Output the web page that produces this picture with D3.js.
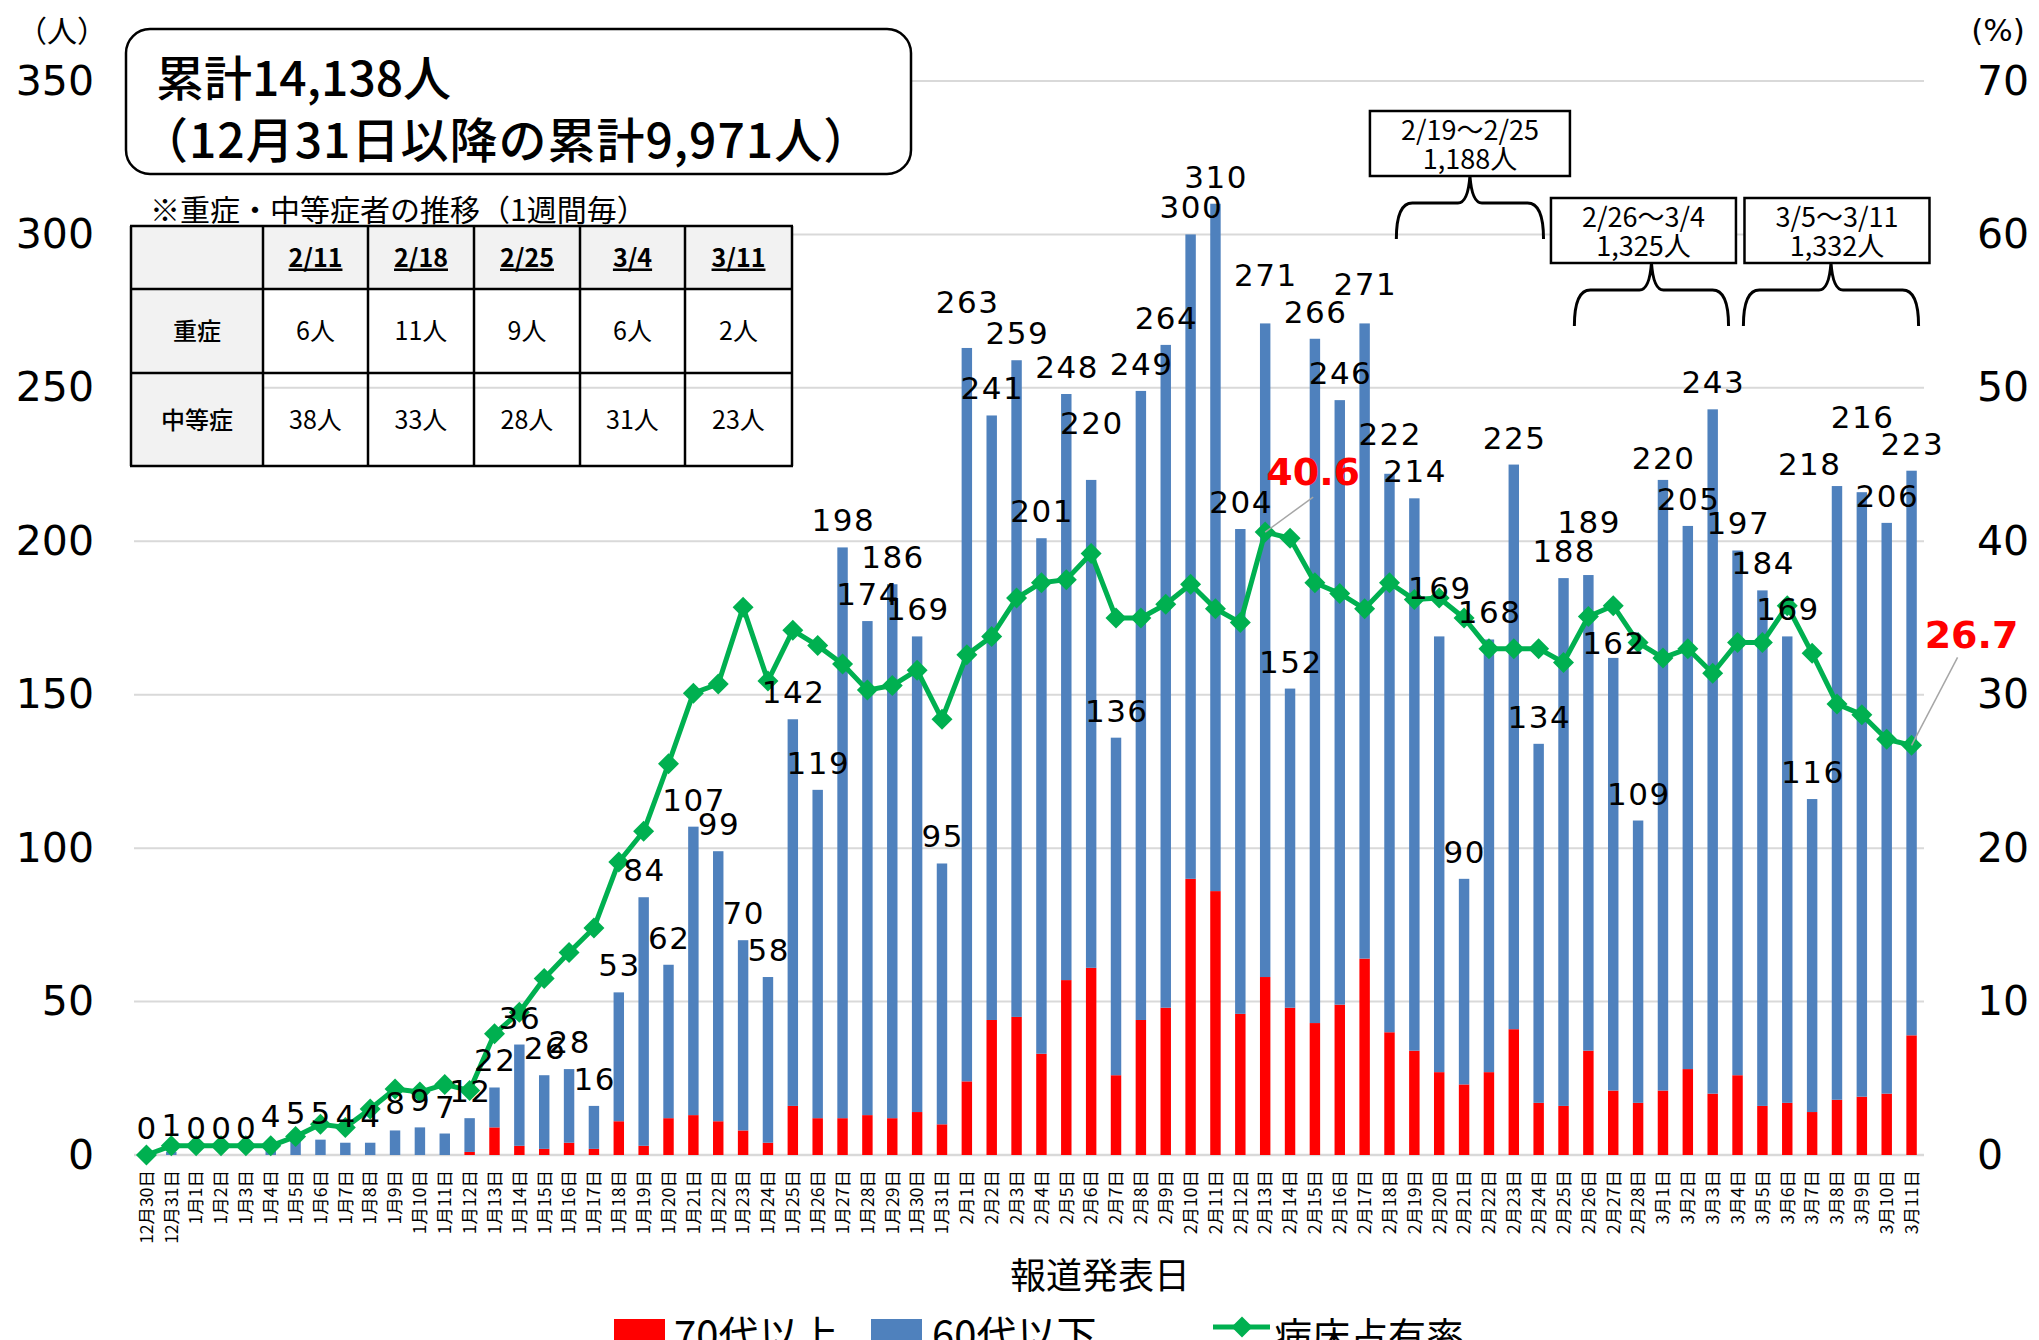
<!DOCTYPE html>
<html lang="ja">
<head>
<meta charset="UTF-8">
<title>報道発表日別 陽性者数と病床占有率</title>
<script src="https://cdn.jsdelivr.net/npm/d3@7"></script>
<style>
  body { margin: 0; background: #fff; }
  svg { display: block; font-family: "DejaVu Sans", sans-serif; }
  .jp { font-family: "Noto Sans CJK JP", sans-serif; }
</style>
</head>
<body>
<svg id="chart" width="2039" height="1340"></svg>
<script>
// 報道発表日
const categories = [
  "12月30日","12月31日",
  "1月1日","1月2日","1月3日","1月4日","1月5日","1月6日","1月7日","1月8日","1月9日","1月10日",
  "1月11日","1月12日","1月13日","1月14日","1月15日","1月16日","1月17日","1月18日","1月19日","1月20日",
  "1月21日","1月22日","1月23日","1月24日","1月25日","1月26日","1月27日","1月28日","1月29日","1月30日","1月31日",
  "2月1日","2月2日","2月3日","2月4日","2月5日","2月6日","2月7日","2月8日","2月9日","2月10日",
  "2月11日","2月12日","2月13日","2月14日","2月15日","2月16日","2月17日","2月18日","2月19日","2月20日",
  "2月21日","2月22日","2月23日","2月24日","2月25日","2月26日","2月27日","2月28日",
  "3月1日","3月2日","3月3日","3月4日","3月5日","3月6日","3月7日","3月8日","3月9日","3月10日","3月11日"
];

// 日別合計（ラベル）
const totals = [
  0,1,0,0,0,4,5,5,4,4,8,9,7,
  12,22,36,26,28,16,53,84,62,107,99,70,58,142,119,198,174,186,169,95,
  263,241,259,201,248,220,136,249,264,300,310,204,271,152,266,246,271,222,214,169,90,168,225,134,188,189,162,109,
  220,205,243,197,184,169,116,218,216,206,223
];

// 70代以上
const over70 = [
  0,0,0,0,0,0,0,0,0,0,0,0,0,
  1,9,3,2,4,2,11,3,12,13,11,8,4,16,12,12,13,12,14,10,
  24,44,45,33,57,61,26,44,48,90,86,46,58,48,43,49,64,40,34,27,23,27,41,17,16,34,21,17,
  21,28,20,26,16,17,14,18,19,20,39
];

// 60代以下
const under60 = [
  0,1,0,0,0,4,5,5,4,4,8,9,7,
  11,13,33,24,24,14,42,81,50,94,88,62,54,126,107,186,161,174,155,85,
  239,197,214,168,191,159,110,205,216,210,224,158,213,104,223,197,207,182,180,142,67,141,184,117,172,155,141,92,
  199,177,223,171,168,152,102,200,197,186,184
];

// 病床占有率（%）
const occupancy = [
  0,0.6,0.6,0.6,0.6,0.6,1.2,2.0,1.8,3.0,4.3,4.1,4.6,
  4.2,7.9,9.3,11.5,13.2,14.8,19.1,21.1,25.5,30.1,30.7,35.7,30.9,34.2,33.2,32.0,30.3,30.6,31.6,28.4,
  32.6,33.8,36.3,37.3,37.5,39.2,35.0,35.0,35.9,37.2,35.6,34.7,40.6,40.2,37.3,36.6,35.6,37.3,36.2,36.3,
  35.0,33.0,33.0,33.0,32.1,35.1,35.8,33.4,
  32.4,33.0,31.4,33.4,33.4,35.8,32.7,29.4,28.7,27.1,26.7
];

// 重症・中等症者の推移
const tableDates = ["2/11","2/18","2/25","3/4","3/11"];
const severe = [6,11,9,6,2];
const moderate = [38,33,28,31,23];

// 週ごとの累計
const weekStart = ["2月19日","2月26日","3月5日"];
const weekEnd = ["2月25日","3月4日","3月11日"];
const weekRange = ["2/19～2/25","2/26～3/4","3/5～3/11"];
const weekTotal = ["1,188人","1,325人","1,332人"];

const svg = d3.select("#chart");
const plotL = 134, plotR = 1924, plotT = 81, plotB = 1155;

const x = d3.scaleBand()
  .domain(categories)
  .range([plotL, plotR])
  .paddingInner(0.58)
  .paddingOuter(0.29);
const cx = d => x(d) + x.bandwidth() / 2;

const yL = d3.scaleLinear().domain([0, 350]).range([plotB, plotT]);
const yR = d3.scaleLinear().domain([0, 70]).range([plotB, plotT]);

// gridlines
svg.append("g")
  .selectAll("line")
  .data(yL.ticks(7))
  .enter()
  .append("line")
  .attr("x1", plotL).attr("x2", plotR)
  .attr("y1", d => yL(d)).attr("y2", d => yL(d))
  .attr("stroke", "#d9d9d9")
  .attr("stroke-width", d => d === 0 ? 2.5 : 2);

// left axis
const axL = svg.append("g")
  .attr("transform", `translate(${plotL},0)`)
  .call(d3.axisLeft(yL).ticks(7).tickSize(0).tickPadding(40));
axL.select(".domain").remove();
axL.selectAll("text").attr("font-size", 41).attr("font-family", "DejaVu Sans").attr("fill", "#000");

// right axis
const axR = svg.append("g")
  .attr("transform", `translate(${plotR},0)`)
  .call(d3.axisRight(yR).ticks(7).tickSize(0).tickPadding(53));
axR.select(".domain").remove();
axR.selectAll("text").attr("font-size", 41).attr("font-family", "DejaVu Sans").attr("fill", "#000");

svg.append("text").attr("class", "jp")
  .attr("x", 62).attr("y", 42).attr("text-anchor", "middle")
  .attr("font-size", 30).text("（人）");
svg.append("text")
  .attr("x", 1998).attr("y", 41).attr("text-anchor", "middle")
  .attr("font-size", 31).text("(%)");

// x axis
const axX = svg.append("g")
  .attr("transform", `translate(0,${plotB})`)
  .call(d3.axisBottom(x).tickSize(0));
axX.select(".domain").remove();
axX.selectAll("text")
  .attr("class", "jp")
  .attr("font-size", 17.5)
  .attr("fill", "#000")
  .attr("transform", "rotate(-90)")
  .attr("x", -15)
  .attr("y", 0)
  .attr("dy", "0.36em")
  .style("text-anchor", "end");

svg.append("text").attr("class", "jp")
  .attr("x", 1100).attr("y", 1289).attr("text-anchor", "middle")
  .attr("font-size", 36).text("報道発表日");

// stacked bars
const bars = svg.append("g");
bars.selectAll(".red")
  .data(categories)
  .enter()
  .append("rect")
  .attr("x", d => x(d))
  .attr("y", (d, i) => yL(over70[i]))
  .attr("width", x.bandwidth())
  .attr("height", (d, i) => yL(0) - yL(over70[i]))
  .attr("fill", "#ff0000");
bars.selectAll(".blue")
  .data(categories)
  .enter()
  .append("rect")
  .attr("x", d => x(d))
  .attr("y", (d, i) => yL(over70[i] + under60[i]))
  .attr("width", x.bandwidth())
  .attr("height", (d, i) => yL(over70[i]) - yL(over70[i] + under60[i]))
  .attr("fill", "#4f81bd");

// occupancy line
const line = d3.line()
  .x((d, i) => cx(categories[i]))
  .y(d => yR(d));
svg.append("path")
  .datum(occupancy)
  .attr("d", line)
  .attr("fill", "none")
  .attr("stroke", "#00b050")
  .attr("stroke-width", 5)
  .attr("stroke-linejoin", "round");

const diamond = "M0,-10.5L10.5,0L0,10.5L-10.5,0Z";
svg.append("g")
  .selectAll("path")
  .data(occupancy)
  .enter()
  .append("path")
  .attr("d", diamond)
  .attr("transform", (d, i) => `translate(${cx(categories[i])},${yR(d)})`)
  .attr("fill", "#00b050");

// total labels (a few were moved by hand in the original to avoid collisions)
const labelNudge = {
  "2月1日": [0, -19], "2月6日": [0, -30], "2月13日": [0, -21], "2月17日": [0, -12],
  "2月18日": [0, -13], "2月20日": [0, -21], "2月26日": [0, -26], "2月27日": [0, 12],
  "3月1日": [0, 5], "3月8日": [-28, 5], "3月9日": [0, -48]
};
svg.append("g")
  .selectAll("text")
  .data(totals)
  .enter()
  .append("text")
  .attr("x", (d, i) => cx(categories[i]) + (labelNudge[categories[i]] || [0, 0])[0] + 0.75)
  .attr("y", (d, i) => yL(d) - 16 + (labelNudge[categories[i]] || [0, 0])[1])
  .attr("text-anchor", "middle")
  .attr("font-size", 31)
  .attr("letter-spacing", 1.5)
  .attr("fill", "#000")
  .text(d => d);

// highlighted occupancy values
const callouts = [
  { date: "2月13日", dx: 48, dy: -61, lx: 48, ly: -35 },
  { date: "3月11日", dx: 60, dy: -111, lx: 46, ly: -88 }
];
callouts.forEach(c => {
  const i = categories.indexOf(c.date);
  const px = cx(c.date), py = yR(occupancy[i]);
  svg.append("line")
    .attr("x1", px).attr("y1", py)
    .attr("x2", px + c.lx).attr("y2", py + c.ly)
    .attr("stroke", "#a6a6a6").attr("stroke-width", 1.5);
  svg.append("text")
    .attr("x", px + c.dx).attr("y", py + c.dy + 14)
    .attr("text-anchor", "middle")
    .attr("font-size", 38).attr("font-weight", "bold")
    .attr("fill", "#ff0000")
    .text(occupancy[i].toFixed(1));
});

// cumulative box
svg.append("rect")
  .attr("x", 126).attr("y", 29).attr("width", 785).attr("height", 145)
  .attr("rx", 24)
  .attr("fill", "#fff").attr("stroke", "#000").attr("stroke-width", 2.5);
svg.append("text").attr("class", "jp")
  .attr("x", 156).attr("y", 96).attr("font-size", 48).attr("font-weight", 500)
  .text("累計14,138人");
svg.append("text").attr("class", "jp")
  .attr("x", 140).attr("y", 158).attr("font-size", 48).attr("font-weight", 500)
  .attr("letter-spacing", 1)
  .text("（12月31日以降の累計9,971人）");

// severity table
svg.append("text").attr("class", "jp")
  .attr("x", 150).attr("y", 221).attr("font-size", 30)
  .text("※重症・中等症者の推移（1週間毎）");

const colX = [131, 263, 368, 474, 580, 685, 792];
const rowY = [226, 289, 373, 466];
const table = svg.append("g").attr("class", "jp");
// gray header row and first column
table.append("rect").attr("x", colX[0]).attr("y", rowY[0])
  .attr("width", colX[6] - colX[0]).attr("height", rowY[1] - rowY[0]).attr("fill", "#f2f2f2");
table.append("rect").attr("x", colX[0]).attr("y", rowY[1])
  .attr("width", colX[1] - colX[0]).attr("height", rowY[3] - rowY[1]).attr("fill", "#f2f2f2");
colX.forEach(v => table.append("line")
  .attr("x1", v).attr("x2", v).attr("y1", rowY[0]).attr("y2", rowY[3])
  .attr("stroke", "#000").attr("stroke-width", 2.5));
rowY.forEach(v => table.append("line")
  .attr("x1", colX[0] - 1).attr("x2", colX[6] + 1).attr("y1", v).attr("y2", v)
  .attr("stroke", "#000").attr("stroke-width", 2.5));

const colMid = i => (colX[i] + colX[i + 1]) / 2;
const rowMid = j => (rowY[j] + rowY[j + 1]) / 2;
tableDates.forEach((d, i) => {
  table.append("text")
    .attr("x", colMid(i + 1)).attr("y", rowMid(0) + 9)
    .attr("text-anchor", "middle").attr("font-size", 25).attr("font-weight", "bold")
    .attr("text-decoration", "underline")
    .text(d);
});
[["重症", severe], ["中等症", moderate]].forEach(([name, vals], j) => {
  table.append("text")
    .attr("x", colMid(0)).attr("y", rowMid(j + 1) + 9)
    .attr("text-anchor", "middle").attr("font-size", 24).attr("font-weight", 500)
    .text(name);
  vals.forEach((v, i) => {
    table.append("text")
      .attr("x", colMid(i + 1)).attr("y", rowMid(j + 1) + 9)
      .attr("text-anchor", "middle").attr("font-size", 25)
      .text(v + "人");
  });
});

// weekly braces
const boxTop = [111, 198, 198];
const braceEnds = [[-18, -20], [-14, -9], [-19, 7]];
const boxShift = [0, -8, 6];
weekStart.forEach((s, k) => {
  const x0 = cx(s) + braceEnds[k][0], x1 = cx(weekEnd[k]) + braceEnds[k][1];
  const xm = (x0 + x1) / 2;
  const yTip = boxTop[k] + 65, yMid = yTip + 27, yBot = yTip + 63;
  svg.append("path")
    .attr("d", `M${x0},${yBot} Q${x0},${yMid} ${x0 + 16},${yMid} L${xm - 12},${yMid}
      Q${xm - 2},${yMid} ${xm},${yTip} Q${xm + 2},${yMid} ${xm + 12},${yMid}
      L${x1 - 16},${yMid} Q${x1},${yMid} ${x1},${yBot}`)
    .attr("fill", "none").attr("stroke", "#000").attr("stroke-width", 3);
  const w = k === 0 ? 200 : 185;
  const bx = xm + boxShift[k];
  svg.append("rect")
    .attr("x", bx - w / 2).attr("y", boxTop[k]).attr("width", w).attr("height", 65)
    .attr("fill", "#fff").attr("stroke", "#000").attr("stroke-width", 2.5);
  svg.append("text").attr("class", "jp")
    .attr("x", bx).attr("y", boxTop[k] + 29).attr("text-anchor", "middle")
    .attr("font-size", 27).text(weekRange[k]);
  svg.append("text").attr("class", "jp")
    .attr("x", bx).attr("y", boxTop[k] + 58).attr("text-anchor", "middle")
    .attr("font-size", 27).text(weekTotal[k]);
});

// legend (cut by the bottom edge, as in the original)
const legend = svg.append("g").attr("class", "jp");
legend.append("rect").attr("x", 614).attr("y", 1319).attr("width", 51).attr("height", 26).attr("fill", "#ff0000");
legend.append("text").attr("x", 674).attr("y", 1350).attr("font-size", 40).text("70代以上");
legend.append("rect").attr("x", 871).attr("y", 1319).attr("width", 51).attr("height", 26).attr("fill", "#4f81bd");
legend.append("text").attr("x", 932).attr("y", 1350).attr("font-size", 40).text("60代以下");
legend.append("line").attr("x1", 1213).attr("x2", 1270).attr("y1", 1327).attr("y2", 1327)
  .attr("stroke", "#00b050").attr("stroke-width", 5);
legend.append("path").attr("d", diamond).attr("transform", "translate(1242,1327)").attr("fill", "#00b050");
legend.append("text").attr("x", 1274).attr("y", 1350).attr("font-size", 38).text("病床占有率");
</script>
</body>
</html>
